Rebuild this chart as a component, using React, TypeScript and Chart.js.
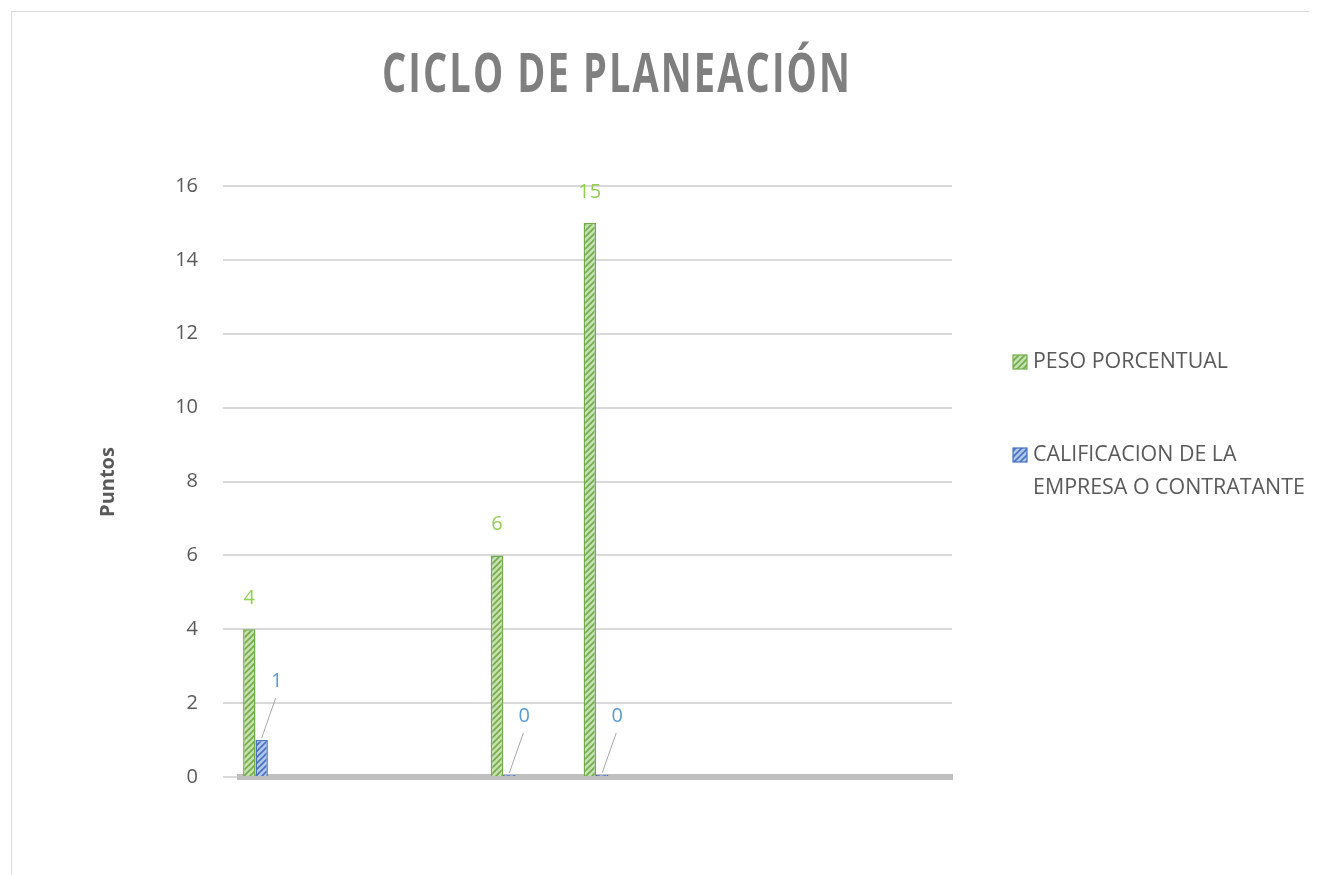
import React, { useEffect, useRef } from "react";
import { Chart, registerables } from "chart.js";

Chart.register(...registerables);

const TITLE = "CICLO DE PLANEACIÓN";
const Y_TITLE = "Puntos";
const categories: string[] = [
  "", "", "", "", "", "", "", "", "", "", "", "",
  "", "", "", "", "", "", "", "", "", "", "",
];
const seriesNames: string[][] = [
  ["PESO PORCENTUAL"],
  ["CALIFICACION DE LA", "EMPRESA O CONTRATANTE"],
];
const pesoPorcentual: (number | null)[] = [
  4, null, null, null, null, null, null, null, 6, null, null, 15,
  null, null, null, null, null, null, null, null, null, null, null,
];
const calificacion: (number | null)[] = [
  1, null, null, null, null, null, null, null, 0, null, null, 0,
  null, null, null, null, null, null, null, null, null, null, null,
];
const yTicks: number[] = [0, 2, 4, 6, 8, 10, 12, 14, 16];

const GREEN_BG = "#C5E0B4";
const GREEN_FG = "#70AD47";
const GREEN_LABEL = "#92D050";
const BLUE_BG = "#B4C7E7";
const BLUE_FG = "#4472C4";
const BLUE_LABEL = "#5B9BD5";
const TEXT = "#595959";

function makePattern(bg: string, fg: string): CanvasPattern | string {
  const c = document.createElement("canvas");
  c.width = 6;
  c.height = 6;
  const g = c.getContext("2d");
  if (!g) return bg;
  g.fillStyle = bg;
  g.fillRect(0, 0, 6, 6);
  g.strokeStyle = fg;
  g.lineWidth = 1.6;
  g.beginPath();
  g.moveTo(0, 6);
  g.lineTo(6, 0);
  g.moveTo(-3, 3);
  g.lineTo(3, -3);
  g.moveTo(3, 9);
  g.lineTo(9, 3);
  g.stroke();
  return g.createPattern(c, "repeat") || bg;
}

export default function App() {
  const ref = useRef<HTMLCanvasElement | null>(null);

  useEffect(() => {
    document.documentElement.style.overflow = "hidden";
    const canvas = ref.current;
    if (!canvas) return;
    const greenPat = makePattern(GREEN_BG, GREEN_FG);
    const bluePat = makePattern(BLUE_BG, BLUE_FG);

    const decorPlugin = {
      id: "decor",
      afterDatasetsDraw(chart: any) {
        const ctx: CanvasRenderingContext2D = chart.ctx;
        ctx.save();
        chart.data.datasets.forEach((ds: any, di: number) => {
          const meta = chart.getDatasetMeta(di);
          meta.data.forEach((bar: any, i: number) => {
            const v = ds.data[i];
            if (v === null || v === undefined) return;
            const { x, y } = bar.getProps(["x", "y"], true);
            ctx.font = '20px "Open Sans"';
            ctx.textAlign = "center";
            ctx.textBaseline = "middle";
            if (di === 0) {
              ctx.fillStyle = GREEN_LABEL;
              ctx.fillText(String(v), x, y - 31);
            } else {
              ctx.strokeStyle = "#A6A6A6";
              ctx.lineWidth = 1;
              ctx.beginPath();
              ctx.moveTo(x, y - 2);
              ctx.lineTo(x + 14, y - 42);
              ctx.stroke();
              ctx.fillStyle = BLUE_LABEL;
              ctx.fillText(String(v), x + 15, y - 59);
            }
          });
        });
        ctx.restore();
      },
      afterDraw(chart: any) {
        const ctx: CanvasRenderingContext2D = chart.ctx;
        ctx.save();
        ctx.font = 'bold 54px "Open Sans"';
        (ctx as any).letterSpacing = "3px";
        ctx.fillStyle = "#7F7F7F";
        ctx.textAlign = "left";
        ctx.textBaseline = "alphabetic";
        const w = ctx.measureText(TITLE).width;
        const targetW = 470;
        const sx = targetW / w;
        ctx.translate(605 - targetW / 2, 80);
        ctx.scale(sx, 1);
        ctx.fillText(TITLE, 0, 0);
        ctx.restore();

        ctx.save();
        (ctx as any).letterSpacing = "0px";
        ctx.font = 'bold 20px "Open Sans"';
        ctx.fillStyle = TEXT;
        ctx.textAlign = "center";
        ctx.textBaseline = "middle";
        ctx.translate(96, 470);
        ctx.rotate(-Math.PI / 2);
        ctx.fillText(Y_TITLE, 0, 0);
        ctx.restore();

        ctx.save();
        (ctx as any).letterSpacing = "0px";
        const items = [
          { lines: seriesNames[0], fill: greenPat, border: GREEN_FG, y: 350 },
          { lines: seriesNames[1], fill: bluePat, border: BLUE_FG, y: 443 },
        ];
        items.forEach((it) => {
          ctx.fillStyle = it.fill as any;
          ctx.fillRect(1001, it.y - 7, 14, 14);
          ctx.strokeStyle = it.border;
          ctx.lineWidth = 1.2;
          ctx.strokeRect(1001, it.y - 7, 14, 14);
          ctx.font = '21.4px "Open Sans"';
          ctx.fillStyle = TEXT;
          ctx.textAlign = "left";
          ctx.textBaseline = "middle";
          it.lines.forEach((ln, k) => {
            ctx.fillText(ln, 1021, it.y + k * 33);
          });
        });
        ctx.restore();
      },
    };

    const chart = new Chart(canvas, {
      type: "bar",
      data: {
        labels: categories,
        datasets: [
          {
            label: seriesNames[0].join(" "),
            data: pesoPorcentual,
            backgroundColor: greenPat as any,
            borderColor: GREEN_FG,
            borderWidth: 1.5,
            categoryPercentage: 0.8,
            barPercentage: 1,
          } as any,
          {
            label: seriesNames[1].join(" "),
            data: calificacion,
            backgroundColor: bluePat as any,
            borderColor: BLUE_FG,
            borderWidth: 1.5,
            categoryPercentage: 0.8,
            barPercentage: 1,
            minBarLength: 2,
          } as any,
        ],
      },
      options: {
        animation: false,
        responsive: true,
        maintainAspectRatio: false,
        layout: { padding: { left: 0, right: 380, top: 174, bottom: 105 } },
        plugins: {
          legend: { display: false },
          title: { display: false },
          tooltip: { enabled: false },
        },
        scales: {
          x: {
            grid: { display: false },
            ticks: { display: false },
            border: { display: true, color: "#BFBFBF", width: 6 },
            afterFit(scale: any) {
              scale.height = 0;
            },
          },
          y: {
            min: 0,
            max: 16,
            afterBuildTicks(scale: any) {
              scale.ticks = yTicks.map((v) => ({ value: v }));
            },
            grid: {
              color: "#D9D9D9",
              lineWidth: 2,
              drawTicks: true,
              tickLength: 17,
            },
            border: { display: false },
            ticks: {
              padding: 25,
              color: TEXT,
              font: { family: "Open Sans", size: 20 },
            },
            afterFit(scale: any) {
              scale.width = 228;
            },
          },
        },
      },
      plugins: [decorPlugin],
    });
    return () => chart.destroy();
  }, []);

  return (
    <div style={{ paddingTop: 3, paddingLeft: 3 }}>
      <div
        style={{
          width: 1320,
          height: 870,
          borderTop: "1px solid #D9D9D9",
          borderLeft: "1px solid #D9D9D9",
          position: "relative",
          background: "#fff",
        }}
      >
        <canvas ref={ref} />
      </div>
    </div>
  );
}
